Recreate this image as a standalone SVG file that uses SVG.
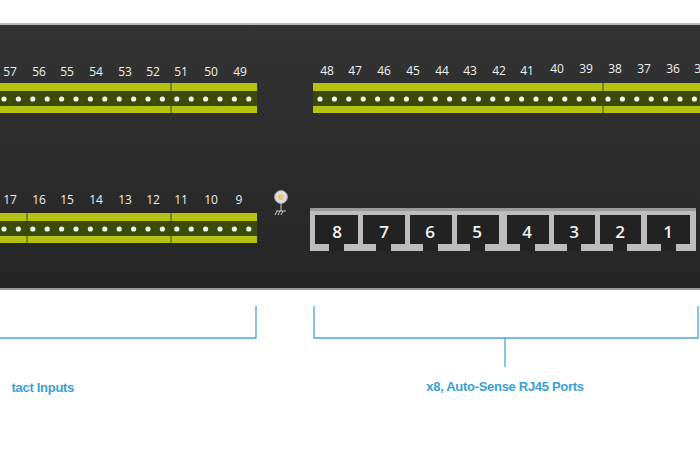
<svg xmlns="http://www.w3.org/2000/svg" width="700" height="450" viewBox="0 0 700 450">
<defs>
<style>
.lbl{font-family:"Open Sans","Liberation Sans",sans-serif;font-size:12px;fill:#f0f0f0;text-anchor:middle}
.pn{font-family:"Open Sans","Liberation Sans",sans-serif;font-size:17px;font-weight:600;fill:#f2f2f2;text-anchor:middle}
.cap{font-family:"Liberation Sans",sans-serif;font-size:13px;font-weight:bold;fill:#3a9fd6;letter-spacing:-0.3px}
.br{fill:none;stroke:#4aa6da;stroke-width:1.3}
.bar{fill:#b5c20f}
.band{fill:#3b4a06}
.dot{fill:#f2f2f2}
.sep{stroke:#3b4a06;stroke-width:1}
</style>
<pattern id="dots" x="4" y="0" width="14.4" height="450" patternUnits="userSpaceOnUse">
<circle cx="0" cy="0" r="0"/>
</pattern>
<linearGradient id="pg" x1="0" y1="0" x2="0" y2="1">
<stop offset="0" stop-color="#333"/><stop offset="1" stop-color="#252525"/>
</linearGradient>
</defs>
<rect width="700" height="450" fill="#fff"/>
<g id="panel">
<rect x="0" y="24" width="700" height="266" fill="url(#pg)"/>
<rect x="0" y="23" width="700" height="2" fill="#bbb"/>
<rect x="0" y="288" width="700" height="2" fill="#999"/>
</g>
<g id="terminal-top-left">
<rect class="bar" x="0" y="83" width="257" height="30"/>
<rect class="band" x="0" y="91" width="257" height="15"/>
<line class="sep" x1="171" y1="83" x2="171" y2="113"/>
<g class="dot">
<circle cx="4" cy="99" r="2.6"/><circle cx="18.4" cy="99" r="2.6"/><circle cx="32.8" cy="99" r="2.6"/><circle cx="47.2" cy="99" r="2.6"/><circle cx="61.6" cy="99" r="2.6"/><circle cx="76" cy="99" r="2.6"/><circle cx="90.4" cy="99" r="2.6"/><circle cx="104.8" cy="99" r="2.6"/><circle cx="119.2" cy="99" r="2.6"/><circle cx="133.6" cy="99" r="2.6"/><circle cx="148" cy="99" r="2.6"/><circle cx="162.4" cy="99" r="2.6"/><circle cx="176.8" cy="99" r="2.6"/><circle cx="191.2" cy="99" r="2.6"/><circle cx="205.6" cy="99" r="2.6"/><circle cx="220" cy="99" r="2.6"/><circle cx="234.4" cy="99" r="2.6"/><circle cx="248.8" cy="99" r="2.6"/>
</g>
<g class="lbl"><text x="10" y="76">57</text><text x="39" y="76">56</text><text x="67" y="76">55</text><text x="96" y="76">54</text><text x="125" y="76">53</text><text x="153" y="76">52</text><text x="181" y="76">51</text><text x="211" y="76">50</text><text x="240" y="76">49</text></g>
</g>
<g id="terminal-top-right">
<rect class="bar" x="313" y="83" width="387" height="30"/>
<rect class="band" x="313" y="91" width="387" height="15"/>
<line class="sep" x1="603" y1="83" x2="603" y2="113"/>
<g class="dot">
<circle cx="320" cy="99" r="2.6"/><circle cx="334.4" cy="99" r="2.6"/><circle cx="348.8" cy="99" r="2.6"/><circle cx="363.2" cy="99" r="2.6"/><circle cx="377.6" cy="99" r="2.6"/><circle cx="392" cy="99" r="2.6"/><circle cx="406.4" cy="99" r="2.6"/><circle cx="420.8" cy="99" r="2.6"/><circle cx="435.2" cy="99" r="2.6"/><circle cx="449.6" cy="99" r="2.6"/><circle cx="464" cy="99" r="2.6"/><circle cx="478.4" cy="99" r="2.6"/><circle cx="492.8" cy="99" r="2.6"/><circle cx="507.2" cy="99" r="2.6"/><circle cx="521.6" cy="99" r="2.6"/><circle cx="536" cy="99" r="2.6"/><circle cx="550.4" cy="99" r="2.6"/><circle cx="564.8" cy="99" r="2.6"/><circle cx="579.2" cy="99" r="2.6"/><circle cx="593.6" cy="99" r="2.6"/><circle cx="608" cy="99" r="2.6"/><circle cx="622.4" cy="99" r="2.6"/><circle cx="636.8" cy="99" r="2.6"/><circle cx="651.2" cy="99" r="2.6"/><circle cx="665.6" cy="99" r="2.6"/><circle cx="680" cy="99" r="2.6"/><circle cx="694.4" cy="99" r="2.6"/>
</g>
<g class="lbl"><text x="327" y="75">48</text><text x="355" y="75">47</text><text x="384" y="75">46</text><text x="413" y="75">45</text><text x="442" y="75">44</text><text x="470" y="75">43</text><text x="499" y="75">42</text><text x="527" y="75">41</text><text x="557" y="73">40</text><text x="586" y="73">39</text><text x="615" y="73">38</text><text x="644" y="73">37</text><text x="673" y="73">36</text><text x="701" y="73">35</text></g>
</g>
<g id="terminal-bottom-left">
<rect class="bar" x="0" y="213" width="257" height="30"/>
<rect class="band" x="0" y="221" width="257" height="15"/>
<line class="sep" x1="27" y1="213" x2="27" y2="243"/>
<line class="sep" x1="171" y1="213" x2="171" y2="243"/>
<g class="dot">
<circle cx="4" cy="229" r="2.6"/><circle cx="18.4" cy="229" r="2.6"/><circle cx="32.8" cy="229" r="2.6"/><circle cx="47.2" cy="229" r="2.6"/><circle cx="61.6" cy="229" r="2.6"/><circle cx="76" cy="229" r="2.6"/><circle cx="90.4" cy="229" r="2.6"/><circle cx="104.8" cy="229" r="2.6"/><circle cx="119.2" cy="229" r="2.6"/><circle cx="133.6" cy="229" r="2.6"/><circle cx="148" cy="229" r="2.6"/><circle cx="162.4" cy="229" r="2.6"/><circle cx="176.8" cy="229" r="2.6"/><circle cx="191.2" cy="229" r="2.6"/><circle cx="205.6" cy="229" r="2.6"/><circle cx="220" cy="229" r="2.6"/><circle cx="234.4" cy="229" r="2.6"/><circle cx="248.8" cy="229" r="2.6"/>
</g>
<g class="lbl"><text x="10" y="204">17</text><text x="39" y="204">16</text><text x="67" y="204">15</text><text x="96" y="204">14</text><text x="125" y="204">13</text><text x="153" y="204">12</text><text x="181" y="204">11</text><text x="211" y="204">10</text><text x="239" y="204">9</text></g>
</g>
<g id="ground">
<circle cx="281" cy="197" r="6.5" fill="#ddd" stroke="#999" stroke-width="1"/>
<circle cx="281" cy="197" r="3" fill="#e8c878"/>
<line x1="281" y1="203" x2="281" y2="211" stroke="#ccc"/>
<line x1="276" y1="211" x2="286" y2="211" stroke="#ccc"/>
<path d="M275 215 L277 211 M278 215 L280 211 M281 215 L283 211" stroke="#ccc"/>
</g>
<g id="rj45">
<rect x="310" y="208" width="386" height="43" fill="#bdbdbd"/>
<rect x="310" y="208" width="386" height="3" fill="#9a9a9a"/>
<g fill="#222">
<path d="M315 215h43v29h-14v7h-15v-7h-14z"/>
<path d="M363 215h42v29h-14v7h-15v-7h-13z"/>
<path d="M410 215h42v29h-14v7h-15v-7h-13z"/>
<path d="M457 215h42v29h-14v7h-15v-7h-13z"/>
<path d="M507 215h42v29h-14v7h-15v-7h-13z"/>
<path d="M554 215h41v29h-14v7h-14v-7h-13z"/>
<path d="M600 215h41v29h-14v7h-14v-7h-13z"/>
<path d="M647 215h43v29h-14v7h-15v-7h-14z"/>
</g>
<g class="pn"><text x="337" y="238">8</text><text x="384" y="238">7</text><text x="430" y="238">6</text><text x="477" y="238">5</text><text x="527" y="238">4</text><text x="574" y="238">3</text><text x="620" y="238">2</text><text x="668" y="238">1</text></g>
</g>
<g id="connectors" class="br">
<path d="M256 306V338H0"/>
<path d="M314 306V338H698V306M505 338V367"/>
</g>
<g id="captions">
<text class="cap" x="74" y="392" text-anchor="end">tact Inputs</text>
<text class="cap" x="505" y="391" text-anchor="middle">x8, Auto-Sense RJ45 Ports</text>
</g>
</svg>
